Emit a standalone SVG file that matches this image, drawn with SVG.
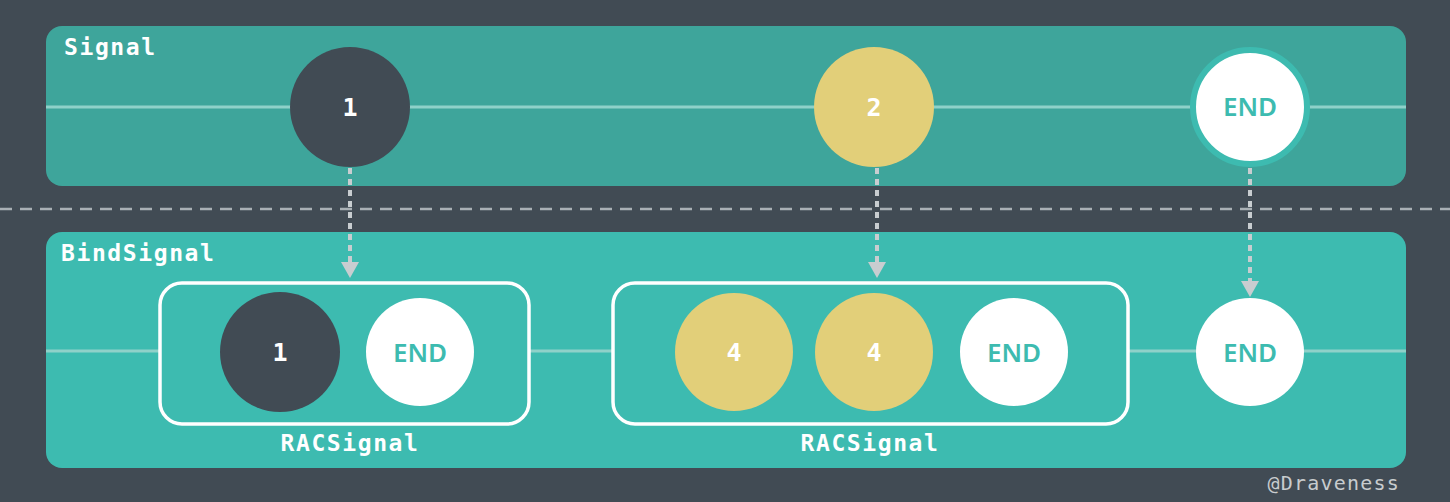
<svg xmlns="http://www.w3.org/2000/svg" width="1450" height="502" viewBox="0 0 1450 502">
<defs>
<style>
.bg{fill:#414b54}
.lane{stroke:#8fd1c9;stroke-width:3}
.lbl{font-family:"DejaVu Sans Mono","Liberation Mono",monospace;font-weight:bold;fill:#ffffff;font-size:23px;letter-spacing:1.6px}
.num{font-family:"DejaVu Sans Mono","Liberation Mono",monospace;font-weight:bold;fill:#ffffff;font-size:25px;text-anchor:middle}
.end{font-family:"Noto Sans","Open Sans",sans-serif;font-weight:600;fill:#3dbbb0;font-size:26px;text-anchor:middle}
.dark{fill:#414b54}
.yel{fill:#e2cf79}
.wht{fill:#ffffff}
.box{fill:#3dbbb0;stroke:#ffffff;stroke-width:3.5}
.arr{stroke:#c8cdd0;stroke-width:4;stroke-dasharray:6 5;fill:none}
.head{fill:#c8cdd0}
</style>
</defs>
<rect class="bg" x="0" y="0" width="1450" height="502"/>
<g id="signal-panel">
<rect x="46" y="26" width="1360" height="160" rx="16" fill="#3ea59b"/>
<line class="lane" x1="46" y1="107" x2="1406" y2="107"/>
<text class="lbl" x="64" y="55">Signal</text>
</g>
<g id="bind-panel">
<rect x="46" y="232" width="1360" height="236" rx="16" fill="#3dbbb0"/>
<line class="lane" x1="46" y1="351" x2="1406" y2="351"/>
<text class="lbl" x="61" y="261">BindSignal</text>
</g>
<line x1="0" y1="209" x2="1450" y2="209" stroke="#a9b0b5" stroke-width="2.5" stroke-dasharray="12 8"/>
<g id="s1"><circle class="dark" cx="350" cy="107" r="60"/><text class="num" x="350" y="116">1</text></g>
<g id="s2"><circle class="yel" cx="874" cy="107" r="60"/><text class="num" x="874" y="116">2</text></g>
<g id="send"><circle cx="1250" cy="107" r="57" fill="#ffffff" stroke="#3dbbb0" stroke-width="6"/><text class="end" x="1250" y="116">END</text></g>
<g id="rac1">
<rect class="box" x="160" y="283" width="369" height="141" rx="22"/>
<circle class="dark" cx="280" cy="352" r="60"/><text class="num" x="280" y="361">1</text>
<circle class="wht" cx="420" cy="352" r="54"/><text class="end" x="420" y="362">END</text>
<text class="lbl" x="350" y="451" text-anchor="middle">RACSignal</text>
</g>
<g id="rac2">
<rect class="box" x="613" y="283" width="515" height="141" rx="22"/>
<circle class="yel" cx="734" cy="352" r="59"/><text class="num" x="734" y="361">4</text>
<circle class="yel" cx="874" cy="352" r="59"/><text class="num" x="874" y="361">4</text>
<circle class="wht" cx="1014" cy="352" r="54"/><text class="end" x="1014" y="362">END</text>
<text class="lbl" x="870" y="451" text-anchor="middle">RACSignal</text>
</g>
<g id="bend"><circle class="wht" cx="1250" cy="352" r="54"/><text class="end" x="1250" y="362">END</text></g>
<g id="connectors">
<line class="arr" x1="350" y1="168" x2="350" y2="262"/>
<path class="head" d="M341,262 L359,262 L350,278 Z"/>
<line class="arr" x1="877" y1="168" x2="877" y2="262"/>
<path class="head" d="M868,262 L886,262 L877,278 Z"/>
<line class="arr" x1="1250" y1="168" x2="1250" y2="282"/>
<path class="head" d="M1241,281 L1259,281 L1250,297 Z"/>
</g>
<text x="1400" y="490" text-anchor="end" font-family="DejaVu Sans Mono,Liberation Mono,monospace" font-size="20" letter-spacing="1.2" fill="#c8ccce">@Draveness</text>
</svg>
